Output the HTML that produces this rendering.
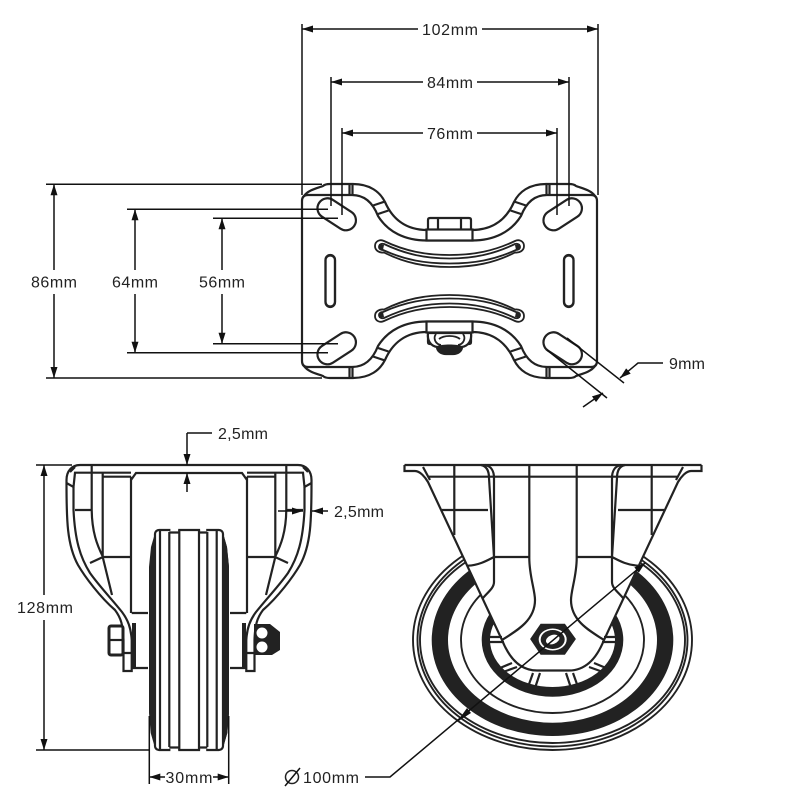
<!DOCTYPE html>
<html><head><meta charset="utf-8"><style>
html,body{margin:0;padding:0;background:#fff}
svg{display:block}
text{font-family:"Liberation Sans",sans-serif;font-size:16px;fill:#222;text-anchor:middle}
.d{stroke:#111;stroke-width:1.5;fill:none}
.a{stroke:#111;stroke-width:1.5;fill:none;marker-end:url(#ar)}
.s{stroke:#222;stroke-width:2.2;fill:none}
.t{stroke:#222;stroke-width:1.8;fill:none}
</style></head><body>
<svg width="800" height="800" viewBox="0 0 800 800" xmlns="http://www.w3.org/2000/svg">
<defs>
<marker id="ar" markerUnits="userSpaceOnUse" markerWidth="12" markerHeight="9" refX="11" refY="4" orient="auto"><path d="M0,0.5L11,4L0,7.500z" fill="#111"/></marker>
<g id="tq">
<path class="s" d="M304,196C308,190 318,188 323,186Q325,184 330,184H353C370,184 380,192 385,202C392,218 405,230 427,230H449.500"/>
<path class="s" d="M308,195H352C365,195 373,203 378,216C388,232 405,240.500 427,240.500H449.500"/>
<path class="s" d="M308,195Q302,195 302,201V281"/>
<path class="s" d="M349.500,184V195M352.500,184V195M373,205.500L385,201.500M378,214L388.500,210.500"/>
<path class="s" d="M428,229V220Q428,218 430,218H449.500M438,218V229"/>
<path class="t" d="M449.500,255C425,255 405,251 384,241C380,239 375,241 375,246C375,251 380,253 384,252.500C405,263 425,267 449.500,267"/>
<path class="t" d="M449.500,258.500C425,258.500 405,254 384,244C381,243 379,245 379,247C379,249 381,250 383,250C405,260 425,263.500 449.500,263.500"/>
<path d="M379,244L384,245L383,250L379,249z" fill="#222"/>
<rect class="s" x="325.500" y="255.500" width="9.500" height="51.500" rx="4.700"/>
</g>
<g id="tb"><use href="#tq"/><use href="#tq" transform="matrix(-1 0 0 1 899 0)"/></g>
<g id="rh">
<path d="M428,482L502,640C508,655 518,670.500 537,670.500H553V476H428z" fill="#fff"/>
<path class="s" d="M404.500,465H553M404.500,465V471H415C420,471 425,477 428,482L502,640C508,655 518,670.500 537,670.500H553"/>
<path class="s" d="M423,467L430,480M429,476.700H553M454.300,465V535M442,510H488M481,465C486,466 489,470 489,478L494,557M485,465C491,466 494,471 494,478V582C494,588 488,592 483,598M468,565.700C480,565 488,560 494,557H529.300M529.300,465V557C529,575 535,590 535,600C535,620 518,630 502,640"/>
<path class="s" d="M533,673L528,687M540,673L535,688M500,668L512,663M503,672L517,667M490,637H502M490,642H504"/>
</g>
<g id="bl">
<path class="s" d="M189,465H80C72,465 66.500,471 66.500,480V483C66.500,520 67,545 78,565C85,577 100,597 115,610C121,618 123,625 123.500,640V671H131.700V640C131,628 128,620 122,612C110,597 100,587 90,573C80,557 75,540 73.500,510V487"/>
<path class="s" d="M66.500,483L73.500,487L75,472.700H131M70,472L75,467M123.500,653H131.700M91.700,465V510C92,532 97,545 103,557M102.700,472.700V557L112,595M75,510H91.700M90,563L103,557H131M103,476.700H131M131,476.700V613"/>
<path d="M132,623H136V667H132zM155,533L151,547L149,567V713L150.700,733L155,748z" fill="#222"/>
<path class="s" d="M131.700,613H148M131.700,668H148"/>
</g>
</defs>

<!-- Wheel right view -->
<g fill="none" stroke="#222" stroke-width="1.900">
<ellipse cx="552.500" cy="640" rx="139.500" ry="110"/>
<ellipse cx="552.500" cy="640" rx="135" ry="106.500"/>
<ellipse cx="552.500" cy="640" rx="132.500" ry="103"/>
<ellipse cx="552.500" cy="640" rx="91.500" ry="73"/>
</g>
<path fill="#222" fill-rule="evenodd" d="M431.700,640a120.800,96 0 1,0 241.600,0a120.800,96 0 1,0 -241.600,0zM448,640a104.500,82.700 0 1,0 209,0a104.500,82.700 0 1,0 -209,0z"/>
<path fill="#222" fill-rule="evenodd" d="M481.700,640a70.800,56.700 0 1,0 141.600,0a70.800,56.700 0 1,0 -141.600,0zM490,640a62.500,47 0 1,0 125,0a62.500,47 0 1,0 -125,0z"/>
<use href="#rh"/><use href="#rh" transform="matrix(-1 0 0 1 1106 0)"/>
<!-- hex nut -->
<path d="M531,639L541,624.500H564.500L575,639L564.500,654H541z" fill="#222" stroke="#222" stroke-width="1.500"/>
<ellipse cx="552.700" cy="639.500" rx="14" ry="11" fill="#fff"/>
<ellipse cx="552.700" cy="639.500" rx="12" ry="9.500" fill="#222"/>
<ellipse cx="552.700" cy="639.500" rx="7" ry="4.500" fill="#fff" transform="rotate(-20 552.700 639.500)"/>

<!-- Top plate -->
<use href="#tb"/><use href="#tb" transform="matrix(1 0 0 -1 0 562)"/>
<g stroke="#222" stroke-width="2.200" fill="#fff">
<rect x="315.700" y="204.300" width="42" height="20" rx="10" transform="rotate(33 336.700 214.300)"/>
<rect x="541.700" y="204.300" width="42" height="20" rx="10" transform="rotate(-33 562.700 214.300)"/>
<rect x="315.700" y="338.300" width="42" height="20" rx="10" transform="rotate(-33 336.700 348.300)"/>
<rect x="541.700" y="338.300" width="42" height="20" rx="10" transform="rotate(33 562.700 348.300)"/>
</g>
<g stroke="#222" stroke-width="2.200" fill="#fff">
<rect x="426.500" y="229.500" width="46" height="11"/>
<rect x="426.500" y="321.500" width="46" height="11"/>
<path d="M428,333C427,341 431,346 437,347C437,351 441,354 446,354H453C458,354 462,351 462,347C468,346 472,341 471,333z"/>
</g>
<path d="M437,346C443,344 456,344 462,346C462,351 458,354 453,354H446C441,354 437,351 437,346z" fill="#222"/>
<path class="t" d="M436,334C433,338 435,344 441,345M463,334C466,338 464,344 458,345M439,339C444,335 455,335 460,339"/>

<!-- Front view -->
<use href="#bl"/><use href="#bl" transform="matrix(-1 0 0 1 378 0)"/>
<path class="s" d="M131,480L136,473H242L247,480"/>
<rect x="155" y="530" width="68" height="220" rx="4" fill="#fff" stroke="#222" stroke-width="2.200"/>
<rect x="170.400" y="528" width="7.800" height="4" fill="#fff"/><rect x="200.100" y="528" width="6.100" height="4" fill="#fff"/>
<rect x="170.400" y="748" width="7.800" height="4" fill="#fff"/><rect x="200.100" y="748" width="6.100" height="4" fill="#fff"/>
<path class="s" d="M160,531V749M169.300,532V747M179.300,530V750M199,530V750M207.300,532V747M216.700,531V749M169.300,532.500H179.300M199,532.500H207.300M169.300,747.500H179.300M199,747.500H207.300"/>
<path d="M223,533L227,547L229,567V713L227.300,733L223,748z" fill="#222"/>
<rect x="109" y="626" width="14" height="29" rx="2" fill="#fff" stroke="#222" stroke-width="3"/>
<path class="s" d="M109,640H123"/>
<path d="M254,624H270L280,632V650L272,655H254z" fill="#222"/>
<circle cx="262" cy="633" r="5.500" fill="#fff"/><circle cx="262" cy="647" r="5.500" fill="#fff"/>

<!-- Dimensions -->
<path class="d" d="M302,24V195M598,24V195M331,77V206M569,77V206M342,128V215M557,128V215"/>
<path class="a" d="M418,29H302"/><path class="a" d="M482,29H598"/>
<path class="a" d="M423,82H331"/><path class="a" d="M477,82H569"/>
<path class="a" d="M423,133H342"/><path class="a" d="M477,133H557"/>
<path class="d" d="M46,184.300H322M46,378H322M127,209.300H328M127,352.700H328M213,218.300H338M213,343.700H338"/>
<path class="a" d="M54,270V184.300"/><path class="a" d="M54,294V378"/>
<path class="a" d="M135,270V209.300"/><path class="a" d="M135,294V352.700"/>
<path class="a" d="M222,270V218.300"/><path class="a" d="M222,294V343.700"/>
<path class="d" d="M567,338L624,383M547,350L607,398"/>
<path class="a" d="M583,407L603,393"/><path class="a" d="M663,363H638L620,378"/>
<path class="d" d="M36,465H72M36,750H150M149.300,716V784M228.700,716V784"/>
<path class="a" d="M44,595V465"/><path class="a" d="M44,620V750"/>
<path class="a" d="M165,777H149.300"/><path class="a" d="M213,777H228.700"/>
<path class="d" d="M212,433H187"/><path class="a" d="M187,433V465"/><path class="a" d="M187,492V473"/>
<path class="a" d="M278,511H303"/><path class="a" d="M328,511H312"/>
<path class="a" d="M365,777H390L645,563"/>
<path d="M457,722L467,708L471,713z" fill="#111"/>
<circle cx="292" cy="777" r="6.500" fill="none" stroke="#222" stroke-width="1.500"/><path class="d" d="M285,786L300,768"/>

<text x="450" y="35" textLength="56">102mm</text>
<text x="450" y="88" textLength="46">84mm</text>
<text x="450" y="139" textLength="46">76mm</text>
<text x="54" y="287.500" textLength="46">86mm</text>
<text x="135" y="287.500" textLength="46">64mm</text>
<text x="222" y="287.500" textLength="46">56mm</text>
<text x="687" y="369" textLength="36">9mm</text>
<text x="243" y="439" textLength="50">2,5mm</text>
<text x="359" y="517" textLength="50">2,5mm</text>
<text x="45" y="613" textLength="56">128mm</text>
<text x="189" y="783" textLength="47">30mm</text>
<text x="331" y="783" textLength="56">100mm</text>
</svg>
</body></html>
